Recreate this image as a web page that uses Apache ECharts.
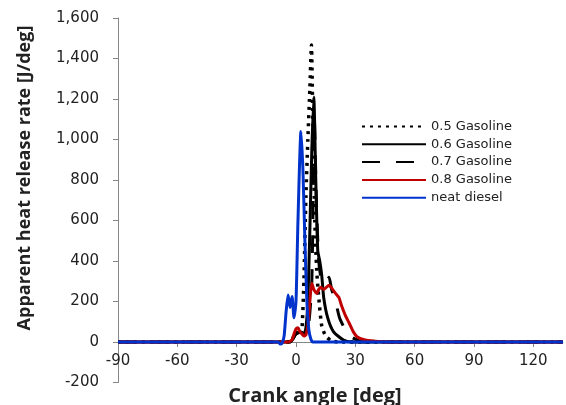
<!DOCTYPE html>
<html>
<head>
<meta charset="utf-8">
<script src="https://cdn.jsdelivr.net/npm/echarts@6/dist/echarts.min.js"></script>
<style>
  html, body { margin: 0; padding: 0; background: #fff; }
  #chart { width: 566px; height: 405px; }
</style>
</head>
<body>
<div id="chart"></div>
<script>
// crank angle [deg] / heat release rate [J/deg]
const g05Angle = [-90, -3, -1, 0, 1, 2, 3, 4, 5, 6, 7, 7.8, 8.5, 9.5, 10.5, 11.5, 13, 15, 18, 22, 135]
const g05Rate = [0, 0, 30, 50, 40, 30, 60, 300, 716, 1000, 1250, 1467, 1100, 600, 350, 220, 80, 30, 5, 0, 0]

const g06Angle = [-90, -3, 0, 2, 4, 5, 6, 7, 8, 9, 10, 11, 12, 13, 14, 16, 19, 24, 28, 135]
const g06Rate = [0, 0, 40, 50, 40, 70, 200, 550, 950, 1210, 800, 450, 400, 330, 220, 120, 50, 10, 0, 0]

const g07Angle = [-90, -3, 0, 3, 6, 8, 9.3, 10.3, 11.5, 13, 15, 16.7, 18, 20, 22, 25, 28, 32, 36, 135]
const g07Rate = [0, 0, 40, 50, 60, 300, 1100, 700, 400, 300, 290, 320, 260, 200, 120, 60, 25, 5, 0, 0]

const g08Angle = [-90, -4, -2, -1, 0, 1, 2, 3, 4, 5, 6, 7, 8, 9, 10.6, 11.5, 12.5, 14, 16.7, 18.5, 20, 21.7, 23, 25, 26.8, 29, 31, 35, 40, 45, 135]
const g08Rate = [0, 0, 10, 40, 65, 70, 50, 40, 30, 35, 80, 200, 290, 260, 240, 260, 270, 260, 280, 260, 240, 220, 180, 130, 95, 50, 25, 10, 4, 0, 0]

const dieselAngle = [-90, -9, -8, -7, -6, -5, -4, -3, -2, -1, 0, 1, 2.5, 3.5, 4.5, 5.5, 6.5, 7.5, 8.5, 135]
const dieselRate = [0, 0, -10, -5, 30, 150, 232, 170, 225, 120, 200, 600, 1040, 850, 500, 200, 60, 15, 0, 0]

const seriesNames = ['0.5 Gasoline', '0.6 Gasoline', '0.7 Gasoline', '0.8 Gasoline', 'neat diesel']

const xTicks = { min: -90, max: 135, step: 30 }
const yTicks = { min: -200, max: 1600, step: 200 }

function pairs(xs, ys) {
  return xs.map((x, i) => [x, ys[i]])
}

const chart = echarts.init(document.getElementById('chart'))

const axisColor = '#868686'
const labelFont = { color: '#222', fontFamily: 'DejaVu Sans', fontSize: 15 }

function line(name, xs, ys, color, type, width) {
  return {
    name,
    type: 'line',
    data: pairs(xs, ys),
    symbol: 'none',
    smooth: 0.2,
    lineStyle: { color, width, type, cap: 'butt' },
    itemStyle: { color },
    animation: false,
  }
}

// x axis sits on y = 0: 200 units above the bottom of the plot
const plotHeight = 405 - 18 - 22.5
const zeroOffset = -plotHeight * (0 - yTicks.min) / (yTicks.max - yTicks.min)

chart.setOption({
  backgroundColor: '#fff',
  grid: { left: 118, right: 3, top: 18, bottom: 22.5 },
  legend: {
    orient: 'vertical',
    left: 356,
    top: 115,
    itemWidth: 64,
    itemHeight: 12,
    itemGap: 4.8,
    itemStyle: { opacity: 0 },
    textStyle: { color: '#222', fontFamily: 'DejaVu Sans', fontSize: 13 },
    data: seriesNames,
  },
  xAxis: {
    type: 'value',
    min: xTicks.min,
    max: xTicks.max,
    interval: xTicks.step,
    offset: zeroOffset,
    axisLine: { onZero: false, lineStyle: { color: axisColor, width: 1 } },
    axisTick: { length: 5, lineStyle: { color: axisColor } },
    axisLabel: { ...labelFont, margin: 12, showMaxLabel: false },
    splitLine: { show: false },
  },
  yAxis: {
    type: 'value',
    min: yTicks.min,
    max: yTicks.max,
    interval: yTicks.step,
    axisLine: { show: true, onZero: false, lineStyle: { color: axisColor, width: 1 } },
    axisTick: { show: true, length: 5, lineStyle: { color: axisColor } },
    axisLabel: {
      ...labelFont,
      margin: 19,
      formatter: (v) => v.toLocaleString('en-US'),
    },
    splitLine: { show: false },
  },
  graphic: [
    {
      type: 'text',
      x: 315,
      y: 396,
      style: {
        text: 'Crank angle [deg]',
        font: 'bold 20px "Open Sans"',
        fill: '#222',
        align: 'center',
        verticalAlign: 'middle',
      },
    },
    {
      type: 'text',
      x: 25,
      y: 178,
      rotation: Math.PI / 2,
      style: {
        text: 'Apparent heat release rate [J/deg]',
        font: 'bold 18px "Open Sans"',
        fill: '#222',
        align: 'center',
        verticalAlign: 'middle',
      },
    },
  ],
  series: [
    line(seriesNames[0], g05Angle, g05Rate, '#000', [3, 5], 3.5),
    line(seriesNames[1], g06Angle, g06Rate, '#000', 'solid', 3),
    line(seriesNames[2], g07Angle, g07Rate, '#000', [18, 16], 3),
    line(seriesNames[3], g08Angle, g08Rate, '#c00000', 'solid', 3),
    line(seriesNames[4], dieselAngle, dieselRate, '#0033cc', 'solid', 3),
  ],
})
</script>
</body>
</html>
